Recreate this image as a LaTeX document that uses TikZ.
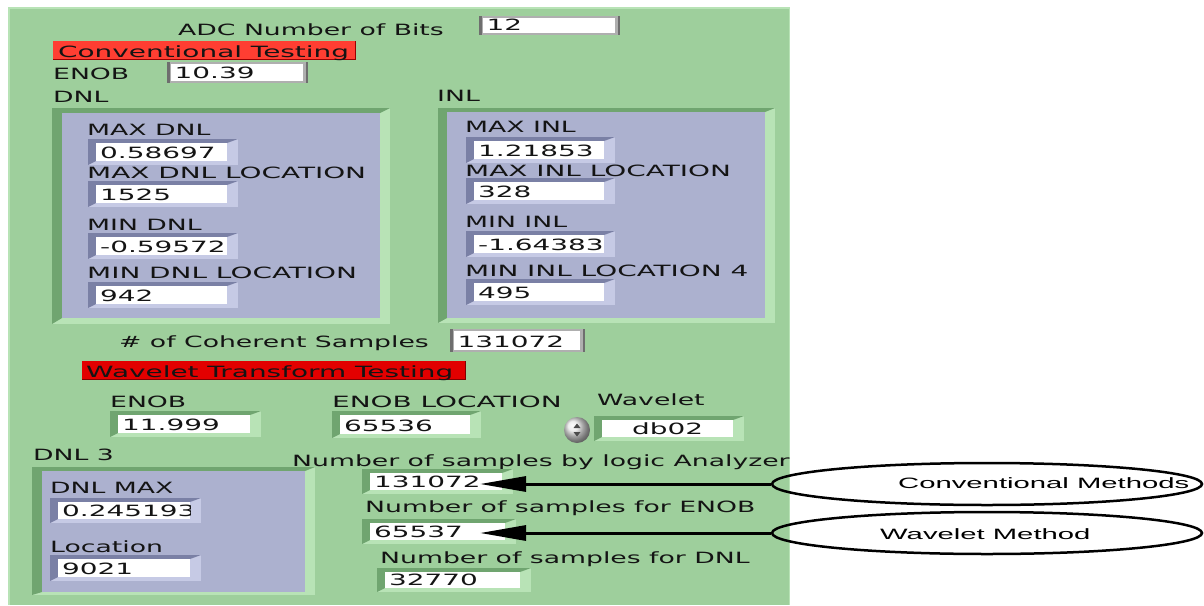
\documentclass[tikz,border=0pt]{standalone}
\usepackage{fontspec}
\newfontfamily\lv[FakeStretch=1.72]{DejaVu Sans}
\newfontfamily\lvw[FakeStretch=1.80]{DejaVu Sans}
\newfontfamily\arl[FakeStretch=1.95]{Liberation Sans}
\usetikzlibrary{arrows.meta,shapes.geometric}
\definecolor{lvgreen}{RGB}{158,207,156}
\definecolor{lvgreenD}{RGB}{112,165,112}
\definecolor{lvgreenL}{RGB}{184,227,182}
\definecolor{lvblue}{RGB}{172,177,207}
\definecolor{lvblueD}{RGB}{122,128,165}
\definecolor{lvblueL}{RGB}{198,202,229}
\definecolor{lvtext}{RGB}{20,20,20}
\definecolor{redA}{RGB}{255,62,50}
\definecolor{redB}{RGB}{226,0,0}
\definecolor{boxD}{RGB}{110,110,110}
\definecolor{boxL}{RGB}{175,175,175}
% bevelled field: name, x, y, w, h, text, dark, light
\newcommand\fld[8]{%
  \fill[#8] (#2-8,#3-4) rectangle (#2+#4+11,#3+#5+4);
  \fill[#7] (#2-8,#3-4) -- (#2+#4+11,#3-4) -- (#2+#4,#3) -- (#2,#3) -- (#2,#3+#5) -- (#2-8,#3+#5+4) -- cycle;
  \node[fieldbox, minimum width=#4, minimum height=#5, anchor=north west] (#1) at (#2,#3) {};
  \begin{scope}
    \clip (#1.south west) rectangle (#1.north east);
    \node[val] (#1t) at ([xshift=4pt,yshift=2.5pt]#1.south west) {#6};
  \end{scope}}
% grey framed box: name, x1, y1, x2, y2, text
\newcommand\gbx[6]{%
  \fill[boxL] (#2,#3) rectangle (#4,#5);
  \fill[boxD] (#2,#3) rectangle (#2+2.5,#5);
  \fill[boxD] (#4-2.5,#3) rectangle (#4,#5);
  \node[fieldbox, anchor=north west, minimum width=#4-#2-9, minimum height=#5-#3-4] (#1) at (#2+3.5,#3+2) {};
  \node[val] (#1t) at ([xshift=4pt,yshift=3pt]#1.south west) {#6};}
% panel: outer x1,y1,x2,y2 inner x1,y1,x2,y2
\newcommand\lvpanel[8]{%
  \fill[lvgreenL] (#1,#2) rectangle (#3,#4);
  \fill[lvgreenD] (#1,#2) -- (#3,#2) -- (#7,#6) -- (#5,#6) -- (#5,#8) -- (#1,#4) -- cycle;
  \fill[lvblue] (#5,#6) rectangle (#7,#8);}
\begin{document}
\begin{tikzpicture}[x=1pt,y=-1pt,
  lbl/.style={font=\lv\fontsize{15.5}{18}\selectfont, text=lvtext, inner sep=0pt, anchor=base west},
  wlbl/.style={lbl, font=\lvw\fontsize{15.5}{18}\selectfont},
  val/.style={lbl, font=\lvw\fontsize{15.5}{18}\selectfont},
  fieldbox/.style={fill=white, draw=none, inner sep=0pt},
  redbox/.style={draw=none, inner sep=0pt, anchor=north west},
  arr/.style={line width=3pt, -{Triangle[length=46pt,width=15pt]}},
  oval/.style={ellipse, draw, line width=2.5pt, minimum width=430pt, minimum height=42pt, inner sep=0pt},
  mt/.style={font=\arl\fontsize{15}{18}\selectfont, inner sep=0pt, anchor=base west}]
\useasboundingbox (0,0) rectangle (1204,605);
\fill[white] (0,0) rectangle (1204,605);
% green background
\fill[lvgreen] (8,7) rectangle (790,605);
\draw[lvgreenL, line width=1.5pt] (8.75,605) -- (8.75,7.75) -- (789.25,7.75) -- (789.25,605);

% top section
\node[lbl] (adc) at (178,35) {ADC Number of Bits};
\gbx{bits}{479}{16}{620}{35}{12}
\node[redbox, fill=redA, minimum width=302, minimum height=18] (conv) at (53,41) {};
\draw[red!60!black, line width=0.8pt] (conv.north east) -- (conv.south east) -- (conv.south west);
\node[wlbl] (convt) at (58,57) {Conventional Testing};
\node[lbl] (enob1) at (53,79) {ENOB};
\gbx{enobv}{167}{62}{308}{83}{10.39}
\node[lbl] (dnl) at (53,102) {DNL};
\node[lbl] (inl) at (437,101) {INL};

% DNL panel
\lvpanel{52}{108}{390}{324}{62}{113}{380}{318}
\node[lbl] (maxdnl) at (87,135) {MAX DNL};
\fld{fmaxdnl}{96}{143}{131}{18}{0.58697}{lvblueD}{lvblueL}
\node[wlbl] (maxdnlloc) at (87,178) {MAX DNL LOCATION};
\fld{fmaxdnlloc}{96}{185}{131}{18}{1525}{lvblueD}{lvblueL}
\node[lbl] (mindnl) at (87,230) {MIN DNL};
\fld{fmindnl}{96}{237}{131}{18}{-0.59572}{lvblueD}{lvblueL}
\node[wlbl] (mindnlloc) at (87,278) {MIN DNL LOCATION};
\fld{fmindnlloc}{96}{286}{131}{18}{942}{lvblueD}{lvblueL}

% INL panel
\lvpanel{438}{108}{775}{323}{447}{112}{765}{318}
\node[lbl] (maxinl) at (465,132) {MAX INL};
\fld{fmaxinl}{474}{141}{130}{18}{1.21853}{lvblueD}{lvblueL}
\node[wlbl] (maxinlloc) at (465,176) {MAX INL LOCATION};
\fld{fmaxinlloc}{474}{182}{130}{18}{328}{lvblueD}{lvblueL}
\node[lbl] (mininl) at (465,227) {MIN INL};
\fld{fmininl}{474}{235}{130}{18}{-1.64383}{lvblueD}{lvblueL}
\node[wlbl] (mininlloc) at (465,276) {MIN INL LOCATION 4};
\fld{fmininlloc}{474}{283}{130}{18}{495}{lvblueD}{lvblueL}

% coherent samples
\node[lbl] (coh) at (119,347) {\# of Coherent Samples};
\gbx{cohv}{450}{329}{585}{352}{131072}

% wavelet section
\node[redbox, fill=redB, minimum width=383, minimum height=18] (wav) at (82,361) {};
\draw[red!50!black, line width=0.8pt] (wav.north east) -- (wav.south east) -- (wav.south west);
\node[wlbl] (wavt) at (86,377) {Wavelet Transform Testing};
\node[lbl] (enob2) at (110,407) {ENOB};
\fld{fenob2}{118}{415}{132}{18}{11.999}{lvgreenD}{lvgreenL}
\node[wlbl] (enobloc) at (332,407) {ENOB LOCATION};
\fld{fenobloc}{340}{415}{130}{19}{65536}{lvgreenD}{lvgreenL}
\node[lbl] (wl) at (597,405) {Wavelet};
\node[circle, minimum size=26pt, inner sep=0pt, shading=ball, ball color=gray!18] (spin) at (577,430) {};
\fill[gray!60!black] (573.5,428) -- (580.5,428) -- (577,423.5) -- cycle;
\fill[gray!60!black] (573.5,432) -- (580.5,432) -- (577,436.5) -- cycle;
\fill[lvgreenL] (594,416) rectangle (744,441);
\fill[lvgreenD] (594,416) -- (744,416) -- (733,420) -- (602,420) -- (602,437) -- (594,441) -- cycle;
\node[fieldbox, minimum width=131, minimum height=17, anchor=north west] (fdb) at (602,420) {};
\node[val, anchor=base] (fdbt) at ([yshift=2.5pt]fdb.south) {db02};

% DNL 3 panel
\node[lbl] (dnl3) at (33,460) {DNL 3};
\lvpanel{32}{467}{315}{595}{42}{471}{305}{592}
\node[lbl] (dnlmax) at (50,493) {DNL MAX};
\fld{fdnlmax}{58}{502}{132}{17}{0.245193}{lvblueD}{lvblueL}
\node[lbl] (loc) at (50,552) {Location};
\fld{floc}{58}{559}{132}{18}{9021}{lvblueD}{lvblueL}

% samples
\node[lbl] (nla) at (292,466) {Number of samples by logic Analyzer};
\fld{fnla}{370}{473}{132}{17}{131072}{lvgreenD}{lvgreenL}
\node[lbl] (nenob) at (365,512) {Number of samples for ENOB};
\fld{fnenob}{370}{523}{135}{17}{65537}{lvgreenD}{lvgreenL}
\node[lbl] (ndnl) at (380,563) {Number of samples for DNL};
\fld{fndnl}{385}{572}{135}{16}{32770}{lvgreenD}{lvgreenL}

% ellipses and arrows
\node[oval] (cm) at (987,484) {};
\node[mt] (cmt) at (898,488) {Conventional Methods};
\node[oval] (wm) at (987,533) {};
\node[mt] (wmt) at (880,539) {Wavelet Method};
\coordinate (tipA) at (480,484);
\coordinate (tipB) at (480,533);
\draw[arr] (cm.west) -- (tipA);
\draw[arr] (wm.west) -- (tipB);
\end{tikzpicture}
\end{document}
